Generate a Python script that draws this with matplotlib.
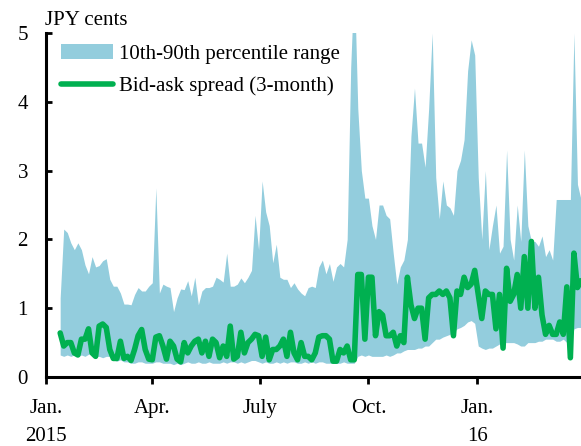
import matplotlib
matplotlib.use("Agg")
import matplotlib.pyplot as plt
import pandas as pd

# Observation dates: every third calendar day from mid-January 2015
dates = pd.date_range("2015-01-13", periods=148, freq="3D")

# 90th percentile of the bid-ask spread distribution (JPY cents)
p90 = [
    1.15, 2.15, 2.1, 1.95, 1.85, 1.95, 1.85, 1.63, 1.5, 1.75, 1.6, 1.62, 1.69, 1.72, 1.42, 1.32,
    1.32, 1.22, 1.06, 1.06, 1.05, 1.2, 1.3,
    1.25, 1.25, 1.32, 1.37, 2.75, 1.22, 1.35, 1.32, 1.3, 0.95, 1.15, 1.28, 1.27, 1.4, 1.18, 1.45,
    1.05, 1.25, 1.3, 1.3, 1.32, 1.45, 1.42, 1.38, 1.8, 1.32,
    1.32, 1.35, 1.44, 1.37, 1.45, 1.55, 2.35, 1.85, 2.85, 2.4, 2.2, 1.66, 1.93, 1.45, 1.42, 1.42,
    1.3, 1.37, 1.28, 1.22, 1.18, 1.3, 1.32, 1.3, 1.6,
    1.7, 1.5, 1.65, 1.39, 1.6, 1.65, 1.6, 2.0, 4.5, 5.8, 3.9, 3.0, 2.6, 2.6, 2.2, 2.0, 2.5, 2.5,
    2.35, 2.3, 1.8, 1.35, 1.6, 1.7, 2.0,
    3.5, 4.2, 3.4, 3.4, 3.05, 3.9, 5.0, 2.9, 2.3, 2.85, 2.5, 2.46, 2.35, 3.0, 3.15, 3.45, 4.45,
    4.9, 4.68, 2.9, 2.0, 3.0, 1.85, 2.2,
    2.5, 1.8, 1.9, 3.3, 2.0, 1.7, 2.5, 1.97, 3.3, 2.2, 1.97, 1.97, 1.9, 2.05, 1.75, 1.85, 1.7,
    2.58, 2.58, 2.58, 2.58, 2.58, 5.0, 2.8, 2.58,
]

# 10th percentile (JPY cents)
p10 = [
    0.32, 0.3, 0.32, 0.3, 0.32, 0.3, 0.32, 0.3, 0.33, 0.35, 0.3, 0.3, 0.28, 0.3, 0.3, 0.25, 0.23,
    0.25, 0.22, 0.22, 0.2, 0.2, 0.22,
    0.22, 0.2, 0.2, 0.2, 0.22, 0.22, 0.2, 0.2, 0.2, 0.18, 0.2, 0.18, 0.2, 0.22, 0.2, 0.2, 0.22,
    0.2, 0.2, 0.22, 0.2, 0.2, 0.2, 0.22, 0.2, 0.22,
    0.22, 0.2, 0.22, 0.2, 0.22, 0.24, 0.24, 0.22, 0.2, 0.22, 0.2, 0.2, 0.22, 0.2, 0.22, 0.2, 0.22,
    0.22, 0.2, 0.2, 0.22, 0.2, 0.22, 0.2, 0.22,
    0.22, 0.2, 0.2, 0.2, 0.2, 0.2, 0.22, 0.2, 0.2, 0.2, 0.3, 0.32, 0.3, 0.32, 0.3, 0.3, 0.3, 0.3,
    0.32, 0.3, 0.32, 0.35, 0.35, 0.38, 0.4,
    0.4, 0.4, 0.42, 0.42, 0.45, 0.45, 0.5, 0.55, 0.55, 0.58, 0.6, 0.62, 0.65, 0.7, 0.72, 0.75,
    0.8, 0.82, 0.78, 0.45, 0.42, 0.4, 0.42, 0.42,
    0.45, 0.48, 0.5, 0.5, 0.5, 0.5, 0.48, 0.45, 0.45, 0.5, 0.5, 0.5, 0.52, 0.52, 0.55, 0.55, 0.55,
    0.52, 0.52, 0.55, 0.5, 0.5, 0.7, 0.72, 0.72,
]

# 3-month USD/JPY bid-ask spread (JPY cents)
spread = [
    0.64, 0.45, 0.5, 0.5, 0.35, 0.32, 0.55, 0.55, 0.7, 0.35, 0.3, 0.74, 0.77, 0.72, 0.4, 0.27,
    0.27, 0.52, 0.27, 0.3, 0.24, 0.4, 0.6,
    0.69, 0.4, 0.26, 0.25, 0.58, 0.6, 0.45, 0.26, 0.52, 0.45, 0.26, 0.22, 0.5, 0.35, 0.45, 0.52,
    0.55, 0.35, 0.52, 0.3, 0.55, 0.5, 0.28, 0.45, 0.3, 0.74,
    0.26, 0.3, 0.65, 0.35, 0.5, 0.55, 0.62, 0.6, 0.3, 0.58, 0.25, 0.4, 0.4, 0.45, 0.55, 0.3, 0.65,
    0.35, 0.25, 0.5, 0.3, 0.3, 0.25, 0.35, 0.58,
    0.6, 0.6, 0.55, 0.23, 0.23, 0.4, 0.35, 0.45, 0.25, 0.25, 1.49, 1.49, 0.55, 1.45, 1.45, 0.6,
    0.95, 0.9, 0.6, 0.6, 0.65, 0.45, 0.6, 0.5, 1.45,
    1.05, 0.85, 1.0, 1.0, 0.55, 1.15, 1.2, 1.2, 1.25, 1.2, 1.25, 1.15, 0.6, 1.25, 1.2, 1.45, 1.3,
    1.35, 1.55, 1.2, 0.85, 1.25, 1.2, 1.2,
    0.7, 1.2, 0.42, 1.58, 1.1, 1.2, 1.49, 1.0, 1.75, 1.0, 1.97, 1.0, 1.45, 0.9, 0.62, 0.75, 0.62,
    0.62, 0.8, 0.62, 1.31, 0.28, 1.8, 1.3, 1.4,
]

tick_dates = ["2015-01-01", "2015-04-01", "2015-07-01", "2015-10-01", "2016-01-01"]
tick_labels = ["Jan.\n2015", "Apr.", "July", "Oct.", "Jan.\n16"]

plt.rcParams["font.family"] = ["Liberation Serif", "DejaVu Serif"]
plt.rcParams["font.size"] = 15

fig = plt.figure(figsize=(5.81, 4.46), dpi=100)
ax = fig.add_axes([46 / 581, 69 / 446, 535 / 581, 344 / 446])

ax.fill_between(dates, p10, p90, color="#93CDDD", linewidth=0,
                label="10th-90th percentile range")
ax.plot(dates, spread, color="#00B050", linewidth=4.0, solid_capstyle="round",
        solid_joinstyle="round", label="Bid-ask spread (3-month)")

ax.set_ylim(0, 5)
ax.set_xlim(pd.Timestamp("2015-01-01"), pd.Timestamp("2016-03-29"))
ax.set_yticks([0, 1, 2, 3, 4, 5])
ax.set_xticks(pd.to_datetime(tick_dates))
ax.set_xticklabels(tick_labels, linespacing=1.6, va="top")

for side in ("top", "right"):
    ax.spines[side].set_visible(False)
for side in ("left", "bottom"):
    ax.spines[side].set_linewidth(2.2)

ax.tick_params(axis="y", direction="in", length=4, width=2, pad=13)
ax.tick_params(axis="x", direction="out", length=5, width=2, pad=11)

fig.text(45 / 581, 1 - 25 / 446, "JPY cents", ha="left", va="baseline")

ax.legend(loc="upper left", bbox_to_anchor=(0.02, 0.98), frameon=False,
          handlelength=2.5, handletextpad=0.3, labelspacing=0.6, borderaxespad=0,
          borderpad=0.2, fontsize=15)

fig.savefig("out.png", dpi=100)
